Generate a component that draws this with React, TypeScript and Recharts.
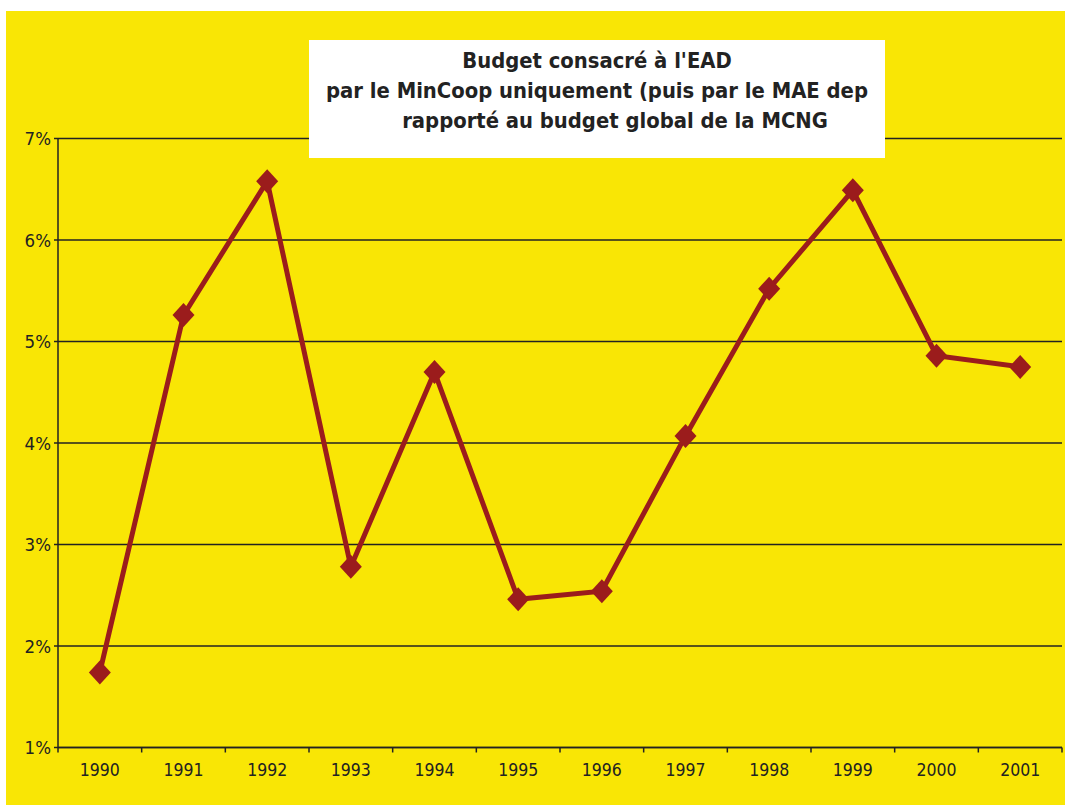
import { CartesianGrid, Line, LineChart, XAxis, YAxis } from "recharts";

const YEARS = [
  "1990", "1991", "1992", "1993", "1994", "1995",
  "1996", "1997", "1998", "1999", "2000", "2001",
];
const SHARE = [1.74, 5.26, 6.58, 2.78, 4.7, 2.46, 2.54, 4.07, 5.52, 6.49, 4.86, 4.75];
const Y_TICKS = [1, 2, 3, 4, 5, 6, 7];
const BOUNDARY_TICKS = [-0.5, 0.5, 1.5, 2.5, 3.5, 4.5, 5.5, 6.5, 7.5, 8.5, 9.5, 10.5, 11.5];
const TITLE = [
  "Budget consacré à l'EAD",
  "par le MinCoop uniquement (puis par le MAE dep",
  "rapporté au budget global de la MCNG",
];

const YELLOW = "#f9e605";
const LINE = "#9b1c1c";
const INK = "#222222";
const FONT = "'DejaVu Sans Condensed', 'DejaVu Sans', sans-serif";

const data = YEARS.map((year, i) => ({ year, idx: i, value: SHARE[i] }));

function Diamond(props: { cx?: number; cy?: number; index?: number }) {
  const { cx, cy, index } = props;
  if (cx == null || cy == null) return null;
  const w = 11;
  const h = 12;
  return (
    <polygon
      key={`d-${index}`}
      points={`${cx},${cy - h} ${cx + w},${cy} ${cx},${cy + h} ${cx - w},${cy}`}
      fill={LINE}
    />
  );
}

export default function App() {
  return (
    <div
      style={{
        position: "absolute",
        left: 6,
        top: 11,
        width: 1059,
        height: 794,
        background: YELLOW,
      }}
    >
      <LineChart
        width={1059}
        height={794}
        data={data}
        margin={{ top: 127.5, right: 3, bottom: 26.5, left: 0 }}
      >
        <CartesianGrid
          xAxisId="b"
          horizontal
          vertical={false}
          stroke={INK}
          strokeWidth={1.5}
        />
        <XAxis
          xAxisId="a"
          type="number"
          dataKey="idx"
          domain={[-0.5, 11.5]}
          ticks={BOUNDARY_TICKS}
          tick={{ fontSize: 0 }}
          tickFormatter={() => ""}
          tickSize={5}
          height={1}
          stroke={INK}
          strokeWidth={1.5}
          allowDataOverflow
        />
        <XAxis
          xAxisId="b"
          dataKey="year"
          scale="band"
          height={30}
          axisLine={false}
          tickLine={false}
          tickSize={0}
          tickMargin={15}
          interval={0}
          tick={{ fill: INK, fontSize: 17.5, fontFamily: FONT }}
        />
        <YAxis
          domain={[1, 7]}
          ticks={Y_TICKS}
          width={52}
          tickSize={4}
          tickMargin={3}
          stroke={INK}
          strokeWidth={1.5}
          tickFormatter={(v) => `${v}%`}
          tick={{ fill: INK, fontSize: 18.5, fontFamily: FONT }}
        />
        <Line
          xAxisId="b"
          dataKey="value"
          stroke={LINE}
          strokeWidth={5}
          dot={<Diamond />}
          activeDot={false}
          isAnimationActive={false}
        />
      </LineChart>
      <div
        style={{
          position: "absolute",
          left: 303,
          top: 29,
          width: 576,
          height: 118,
          background: "#ffffff",
          fontFamily: FONT,
          fontWeight: 700,
          fontSize: 21.8,
          lineHeight: "30px",
          color: INK,
          textAlign: "center",
          paddingTop: 6,
          boxSizing: "border-box",
          whiteSpace: "nowrap",
        }}
      >
        <div>{TITLE[0]}</div>
        <div>{TITLE[1]}</div>
        <div style={{ paddingLeft: 36 }}>{TITLE[2]}</div>
      </div>
    </div>
  );
}
